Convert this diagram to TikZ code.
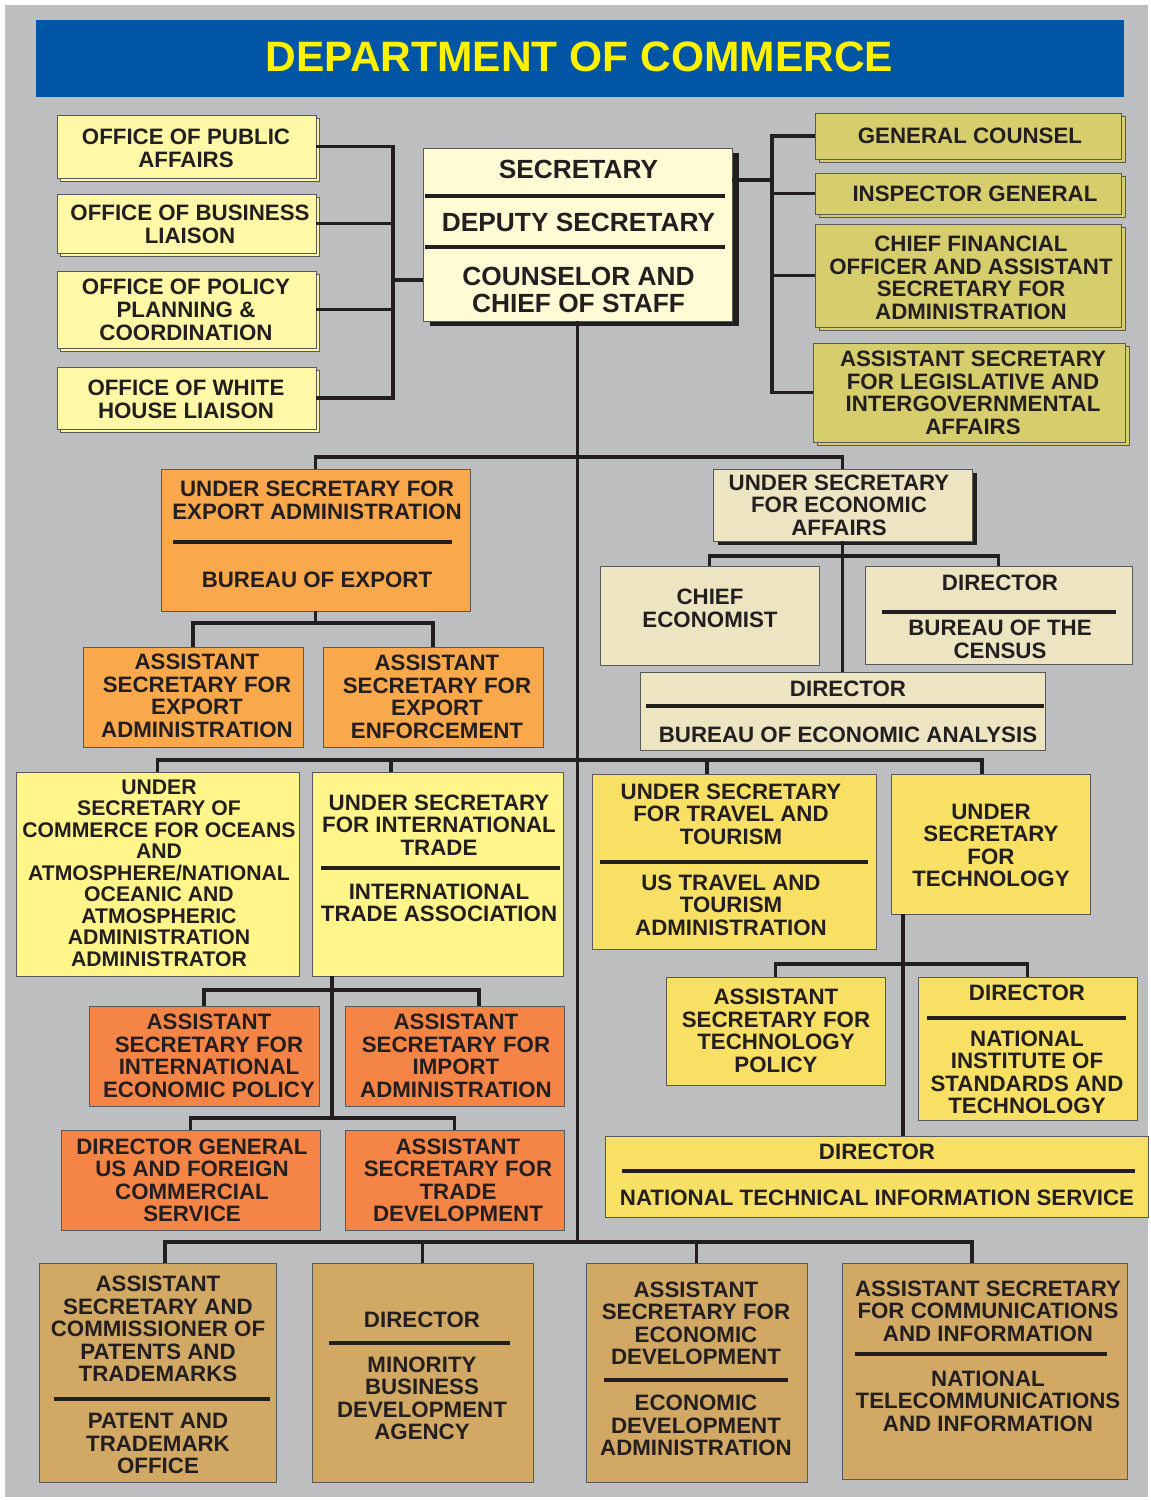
\documentclass[tikz,border=0pt]{standalone}
\usepackage{fontspec}
\setmainfont{Liberation Sans}
\usetikzlibrary{shadows}
\definecolor{bgc}{HTML}{BCBEC0}
\definecolor{band}{HTML}{0055A5}
\definecolor{ttl}{HTML}{FFF200}
\definecolor{ctl}{HTML}{FFF9A7}
\definecolor{csec}{HTML}{FFFBD5}
\definecolor{col}{HTML}{D6CD6D}
\definecolor{cor}{HTML}{F9A84B}
\definecolor{cbe}{HTML}{EDE5C2}
\definecolor{cyl}{HTML}{FFF58A}
\definecolor{cor2}{HTML}{F58547}
\definecolor{cgd}{HTML}{F8E064}
\definecolor{ctan}{HTML}{D2A964}
\definecolor{edge}{HTML}{58595B}
\definecolor{ink}{HTML}{231F20}
\newcommand\mkbox[6]{\node[#6, minimum width={#4-#2}, minimum height={#5-#3}] (#1) at ({(#2+#4)/2},{(#3+#5)/2}) {};}
\tikzset{
  box/.style={rectangle, draw=edge, line width=0.8pt, inner sep=0pt, outer sep=0pt},
  tlbox/.style={box, fill=ctl, general shadow={shadow xshift=3.5pt, shadow yshift=-3pt, fill=ctl, draw=edge, line width=0.8pt}},
  olbox/.style={box, fill=col, general shadow={shadow xshift=4pt, shadow yshift=-3.5pt, fill=col, draw=edge, line width=0.8pt}},
  secbox/.style={box, fill=csec, general shadow={shadow xshift=6.5pt, shadow yshift=-5pt, fill=ink}},
  useabox/.style={box, fill=cbe, general shadow={shadow xshift=4.5pt, shadow yshift=-4pt, fill=ink}},
  orbox/.style={box, fill=cor},
  bebox/.style={box, fill=cbe},
  ylbox/.style={box, fill=cyl},
  or2box/.style={box, fill=cor2},
  gdbox/.style={box, fill=cgd},
  tanbox/.style={box, fill=ctan},
  conn/.style={draw=ink, line width=3.6pt},
  divider/.style={draw=ink, line width=3.6pt},
  txt/.style={font=\fontsize{22.3}{22.5}\selectfont\bfseries, align=center, inner sep=0pt, text=ink},
  txtb/.style={font=\fontsize{22.3}{23}\selectfont\bfseries, align=center, inner sep=0pt, text=ink},
  txts/.style={font=\fontsize{21.2}{21.5}\selectfont\bfseries, align=center, inner sep=0pt, text=ink},
  txtsec/.style={font=\fontsize{26.3}{26.5}\selectfont\bfseries, align=center, inner sep=0pt, text=ink}
}
\begin{document}
\begin{tikzpicture}[x=1pt,y=-1pt]
\useasboundingbox (0,0) rectangle (1151,1500);
\fill[white] (0,0) rectangle (1151,1500);
\fill[bgc] (5,5) rectangle (1148,1497);
% title
\node[fill=band, minimum width=1088, minimum height=77, inner sep=0pt] (band) at (580,58.5) {};
\node[font=\fontsize{42.5}{42.5}\selectfont\bfseries, text=ttl, inner sep=0pt] (title) at (579.5,57) {DEPARTMENT OF COMMERCE};
% boxes
\mkbox{opa}{57}{115}{316}{178}{tlbox}
\mkbox{obl}{57}{194}{316}{253}{tlbox}
\mkbox{opp}{57}{271}{316}{348}{tlbox}
\mkbox{owh}{57}{367}{316}{429}{tlbox}
\mkbox{sec}{423}{148}{732}{321}{secbox}
\mkbox{gc}{815}{113}{1121}{159}{olbox}
\mkbox{ig}{815}{173}{1121}{214}{olbox}
\mkbox{cfo}{815}{224}{1121}{327}{olbox}
\mkbox{asl}{813}{343}{1125}{442}{olbox}
\mkbox{usexa}{161}{469}{470}{611}{orbox}
\mkbox{asea}{83}{647}{303}{747}{orbox}
\mkbox{asee}{323}{647}{543}{747}{orbox}
\mkbox{usea}{713}{469}{972}{541}{useabox}
\mkbox{ce}{600}{566}{819}{665}{bebox}
\mkbox{census}{865}{566}{1132}{664}{bebox}
\mkbox{bea}{640}{672}{1045}{750}{bebox}
\mkbox{usoa}{16}{772}{299}{976}{ylbox}
\mkbox{usit}{312}{772}{563}{976}{ylbox}
\mkbox{asiep}{89}{1006}{319}{1106}{or2box}
\mkbox{asia}{345}{1006}{564}{1106}{or2box}
\mkbox{dgcs}{61}{1130}{320}{1230}{or2box}
\mkbox{astd}{345}{1130}{564}{1230}{or2box}
\mkbox{ustt}{592}{774}{876}{949}{gdbox}
\mkbox{ust}{891}{774}{1090}{914}{gdbox}
\mkbox{astp}{666}{977}{885}{1085}{gdbox}
\mkbox{nist}{918}{977}{1137}{1120}{gdbox}
\mkbox{ntis}{605}{1136}{1148}{1217}{gdbox}
\mkbox{pto}{39}{1263}{276}{1482}{tanbox}
\mkbox{mbda}{312}{1263}{533}{1482}{tanbox}
\mkbox{eda}{586}{1263}{807}{1482}{tanbox}
\mkbox{ntia}{842}{1263}{1127}{1479}{tanbox}
% dividers
\draw[divider] (425,196) -- (725,196);
\draw[divider] (425,247) -- (725,247);
\draw[divider] (173,542) -- (452,542);
\draw[divider] (882,612) -- (1116,612);
\draw[divider] (646,706) -- (1044,706);
\draw[divider] (321,868) -- (560,868);
\draw[divider] (600,862) -- (868,862);
\draw[divider] (927,1018) -- (1126,1018);
\draw[divider] (622,1171) -- (1135,1171);
\draw[divider] (54,1399) -- (270,1399);
\draw[divider] (329,1343) -- (510,1343);
\draw[divider] (604,1380) -- (788,1380);
\draw[divider] (855,1354) -- (1107,1354);
% coordinates for connectors
\coordinate (lbx) at (393,0);
\coordinate (lbj) at (393,280);
\coordinate (rbx) at (772,0);
\coordinate (rbj) at (772,180);
\coordinate (tend) at (577.5,1244);
\coordinate (b1) at (0,457);
\coordinate (b2) at (0,623);
\coordinate (b3) at (0,556);
\coordinate (dusoa) at (157.5,760);
\coordinate (dusit) at (391,760);
\coordinate (dustt) at (707,760);
\coordinate (dust) at (982,760);
\coordinate (uitx) at (332,0);
\coordinate (dasia) at (479,990);
\coordinate (b5) at (0,1118);
\coordinate (ustx) at (903,0);
\coordinate (b6) at (0,964);
\coordinate (dpto) at (165,1242);
\coordinate (dntia) at (972,1242);
% connectors
\draw[conn] (opa.east) -- (opa.east -| lbx) |- (owh.east);
\draw[conn] (obl.east) -- (obl.east -| lbx);
\draw[conn] (opp.east) -- (opp.east -| lbx);
\draw[conn] (lbj) -- (lbj -| sec.west);
\draw[conn] (gc.west) -- (gc.west -| rbx) |- (asl.west);
\draw[conn] (ig.west) -- (ig.west -| rbx);
\draw[conn] (cfo.west) -- (cfo.west -| rbx);
\draw[conn] (sec.east |- rbj) -- (rbj);
\draw[conn] (sec.south) -- (tend);
\draw[conn] (usexa.north) -- (usexa.north |- b1) -| (usea.north);
\draw[conn] (usexa.south) -- (usexa.south |- b2);
\draw[conn] (asea.north) |- (asee.north |- b2) -- (asee.north);
\draw[conn] (usea.south) -- (bea.north);
\draw[conn] (ce.north) |- (census.north |- b3) -- (census.north);
\draw[conn] (usoa.north) -- (dusoa) -- (dust) -- (dust |- ust.north);
\draw[conn] (dusit) -- (dusit |- usit.north);
\draw[conn] (dustt) -- (dustt |- ustt.north);
\draw[conn] (uitx |- usit.south) -- (uitx |- b5);
\draw[conn] (asiep.north) |- (dasia) -- (dasia |- asia.north);
\draw[conn] (dgcs.north) |- (astd.north |- b5) -- (astd.north);
\draw[conn] (ustx |- ust.south) -- (ustx |- ntis.north);
\draw[conn] (astp.north) |- (nist.north |- b6) -- (nist.north);
\draw[conn] (dpto |- pto.north) -- (dpto) -- (dntia) -- (dntia |- ntia.north);
\draw[conn] (mbda.north) -- (mbda.north |- dpto);
\draw[conn] (eda.north) -- (eda.north |- dpto);
% texts
\node[txtb] (t1) at (186,148.5) {OFFICE OF PUBLIC\\AFFAIRS};
\node[txtb] (t2) at (190,224.5) {OFFICE OF BUSINESS\\LIAISON};
\node[txtb] (t3) at (186,310) {OFFICE OF POLICY\\PLANNING \&\\COORDINATION};
\node[txtb] (t4) at (186,399.5) {OFFICE OF WHITE\\HOUSE LIAISON};
\node[txtsec] (t5) at (578.5,169) {SECRETARY};
\node[txtsec] (t6) at (578.5,222) {DEPUTY SECRETARY};
\node[txtsec] (t7) at (578.5,290) {COUNSELOR AND\\CHIEF OF STAFF};
\node[txt] (t8) at (970,136) {GENERAL COUNSEL};
\node[txt] (t9) at (975,194) {INSPECTOR GENERAL};
\node[txt] (t10) at (971,278) {CHIEF FINANCIAL\\OFFICER AND ASSISTANT\\SECRETARY FOR\\ADMINISTRATION};
\node[txt] (t11) at (973,393) {ASSISTANT SECRETARY\\FOR LEGISLATIVE AND\\INTERGOVERNMENTAL\\AFFAIRS};
\node[txt] (t12) at (317,500.5) {UNDER SECRETARY FOR\\EXPORT ADMINISTRATION};
\node[txt] (t13) at (317,580) {BUREAU OF EXPORT};
\node[txt] (t14) at (197,696) {ASSISTANT\\SECRETARY FOR\\EXPORT\\ADMINISTRATION};
\node[txt] (t15) at (437,697) {ASSISTANT\\SECRETARY FOR\\EXPORT\\ENFORCEMENT};
\node[txt] (t16) at (839,505) {UNDER SECRETARY\\FOR ECONOMIC\\AFFAIRS};
\node[txt] (t17) at (710,608.5) {CHIEF\\ECONOMIST};
\node[txt] (t18) at (1000,583) {DIRECTOR};
\node[txt] (t19) at (1000,639.5) {BUREAU OF THE\\CENSUS};
\node[txt] (t20) at (848,689) {DIRECTOR};
\node[txt] (t21) at (848,735) {BUREAU OF ECONOMIC ANALYSIS};
\node[txts] (t22) at (159,873) {UNDER\\SECRETARY OF\\COMMERCE FOR OCEANS\\AND\\ATMOSPHERE/NATIONAL\\OCEANIC AND\\ATMOSPHERIC\\ADMINISTRATION\\ADMINISTRATOR};
\node[txt] (t23) at (439,825) {UNDER SECRETARY\\FOR INTERNATIONAL\\TRADE};
\node[txt] (t24) at (439,903) {INTERNATIONAL\\TRADE ASSOCIATION};
\node[txt] (t25) at (209,1056) {ASSISTANT\\SECRETARY FOR\\INTERNATIONAL\\ECONOMIC POLICY};
\node[txt] (t26) at (456,1056) {ASSISTANT\\SECRETARY FOR\\IMPORT\\ADMINISTRATION};
\node[txt] (t27) at (192,1180.5) {DIRECTOR GENERAL\\US AND FOREIGN\\COMMERCIAL\\SERVICE};
\node[txt] (t28) at (458,1180.5) {ASSISTANT\\SECRETARY FOR\\TRADE\\DEVELOPMENT};
\node[txt] (t29) at (731,814) {UNDER SECRETARY\\FOR TRAVEL AND\\TOURISM};
\node[txt] (t30) at (731,905) {US TRAVEL AND\\TOURISM\\ADMINISTRATION};
\node[txt] (t31) at (991,845.5) {UNDER\\SECRETARY\\FOR\\TECHNOLOGY};
\node[txt] (t32) at (776,1031) {ASSISTANT\\SECRETARY FOR\\TECHNOLOGY\\POLICY};
\node[txt] (t33) at (1027,993) {DIRECTOR};
\node[txt] (t34) at (1027,1072.5) {NATIONAL\\INSTITUTE OF\\STANDARDS AND\\TECHNOLOGY};
\node[txt] (t35) at (877,1152) {DIRECTOR};
\node[txt] (t36) at (877,1198) {NATIONAL TECHNICAL INFORMATION SERVICE};
\node[txt] (t37) at (158,1329) {ASSISTANT\\SECRETARY AND\\COMMISSIONER OF\\PATENTS AND\\TRADEMARKS};
\node[txt] (t38) at (158,1443.5) {PATENT AND\\TRADEMARK\\OFFICE};
\node[txt] (t39) at (422,1320) {DIRECTOR};
\node[txt] (t40) at (422,1398.5) {MINORITY\\BUSINESS\\DEVELOPMENT\\AGENCY};
\node[txt] (t41) at (696,1323.5) {ASSISTANT\\SECRETARY FOR\\ECONOMIC\\DEVELOPMENT};
\node[txt] (t42) at (696,1425.5) {ECONOMIC\\DEVELOPMENT\\ADMINISTRATION};
\node[txt] (t43) at (988,1311) {ASSISTANT SECRETARY\\FOR COMMUNICATIONS\\AND INFORMATION};
\node[txt] (t44) at (988,1401) {NATIONAL\\TELECOMMUNICATIONS\\AND INFORMATION};
\end{tikzpicture}
\end{document}
